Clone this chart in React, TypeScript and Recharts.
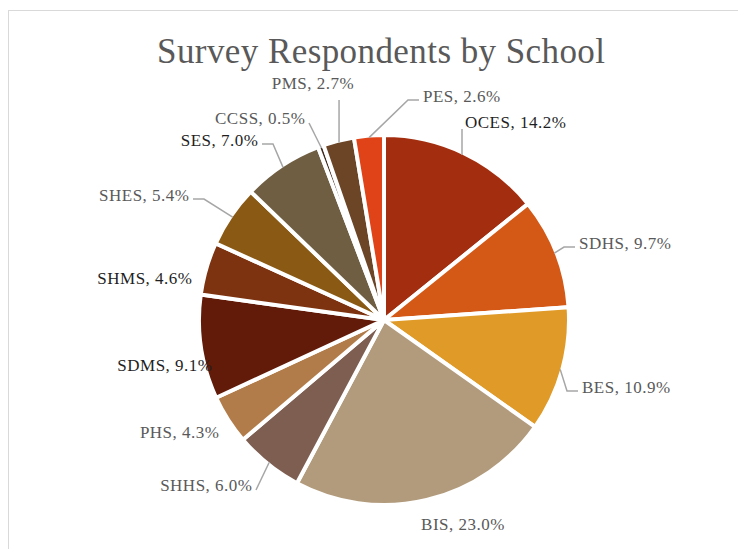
import React from "react";
import { PieChart, Pie, Cell } from "recharts";

const schools = ["OCES", "SDHS", "BES", "BIS", "SHHS", "PHS", "SDMS", "SHMS", "SHES", "SES", "CCSS", "PMS", "PES"];
const shares = [14.2, 9.7, 10.9, 23.0, 6.0, 4.3, 9.1, 4.6, 5.4, 7.0, 0.5, 2.7, 2.6];
const sliceColors = [
  "#A32E0F", "#D45816", "#E09A28", "#B29B7C", "#7D5E51", "#B27C4A", "#621B09",
  "#7D3210", "#8A5A15", "#6F5E42", "#3F2A1C", "#6B4526", "#E04318",
];
const darkLabel = [true, false, false, false, false, false, true, true, false, true, false, false, false];

// label layout: offset of label anchor from pie centre, text anchor, leader style
const labelLayout: [number, number, "start" | "middle" | "end", "none" | "direct" | "elbow" | "vertical"][] = [
  [81, -198, "start", "vertical"],
  [195, -77, "start", "elbow"],
  [198, 67, "start", "elbow"],
  [79, 204, "middle", "none"],
  [-132, 165, "end", "direct"],
  [-165, 112, "end", "none"],
  [-172, 45, "end", "none"],
  [-192, -42, "end", "none"],
  [-195, -125, "end", "elbow"],
  [-126, -180, "end", "elbow"],
  [-79, -202, "end", "direct"],
  [-71, -237, "middle", "vertical"],
  [39, -224, "start", "elbow"],
];

const data = schools.map((name, i) => ({ name, value: shares[i] }));

const RAD = Math.PI / 180;
const FONT = "'Liberation Serif', 'DejaVu Serif', serif";

const renderLabel = (props: any) => {
  const { cx, cy, midAngle, outerRadius, index, name, value } = props;
  const [dx, dy, anchor, leader] = labelLayout[index];
  const lx = cx + dx;
  const ly = cy + dy;
  const ex = cx + (outerRadius - 2) * Math.cos(-midAngle * RAD);
  const ey = cy + (outerRadius - 2) * Math.sin(-midAngle * RAD);
  let path = "";
  if (leader === "direct") {
    const ax = anchor === "end" ? lx + 4 : lx - 4;
    path = `M${ex},${ey}L${ax},${ly + 5}`;
  } else if (leader === "elbow") {
    const ax = anchor === "end" ? lx + 4 : lx - 4;
    const bx = anchor === "end" ? ax + 11 : ax - 11;
    path = `M${ex},${ey}L${bx},${ly + 4}L${ax},${ly + 4}`;
  } else if (leader === "vertical") {
    const vx = anchor === "start" ? lx - 3 : ex;
    path = `M${vx},${ey}L${vx},${ly + (anchor === "start" ? 7 : 17)}`;
  }
  const textX = anchor === "end" ? lx + 0.5 : lx;
  return (
    <g key={`lbl-${index}`}>
      {path && <path d={path} stroke="#A6A6A6" strokeWidth={1.5} fill="none" />}
      <text
        x={textX}
        y={ly}
        textAnchor={anchor}
        dominantBaseline="central"
        style={{ fontFamily: FONT, letterSpacing: "0.5px" }}
        fontSize={17}
        fill={darkLabel[index] ? "#1F1F1F" : "#595959"}
      >
        {`${name}, ${value.toFixed(1)}%`}
      </text>
    </g>
  );
};

export default function App() {
  return (
    <div style={{ position: "relative", width: 730, height: 541 }}>
      <div style={{ position: "absolute", left: 0, top: 2, width: 730, height: 1, background: "#D9D9D9" }} />
      <div style={{ position: "absolute", left: 0, top: 2, width: 1, height: 539, background: "#D9D9D9" }} />
      <div style={{ position: "absolute", left: 0, top: 0 }}>
        <PieChart width={730} height={541}>
          <text
            x={373}
            y={55}
            textAnchor="middle"
            style={{ fontFamily: FONT }}
            fontSize={35}
            textLength={448}
            lengthAdjust="spacing"
            fill="#595959"
          >
            Survey Respondents by School
          </text>
          <Pie
            data={data}
            dataKey="value"
            nameKey="name"
            cx={371}
            cy={307}
            outerRadius={185}
            startAngle={90}
            endAngle={-270}
            stroke="#FFFFFF"
            strokeWidth={4}
            label={renderLabel}
            labelLine={false}
            isAnimationActive={false}
          >
            {data.map((d, i) => (
              <Cell key={d.name} fill={sliceColors[i]} />
            ))}
          </Pie>
        </PieChart>
      </div>
    </div>
  );
}
